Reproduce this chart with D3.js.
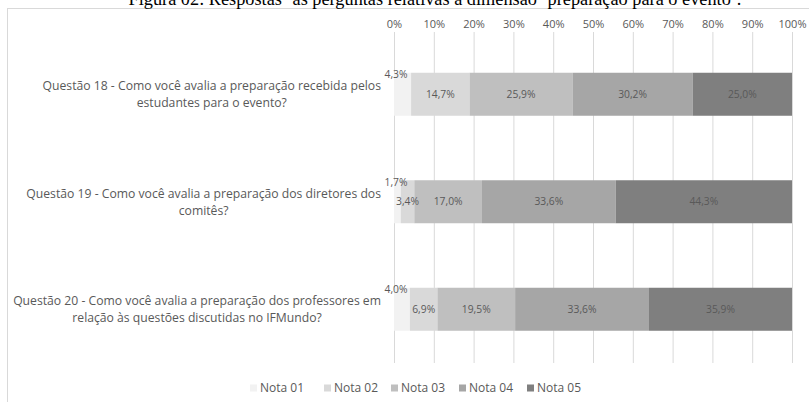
<!DOCTYPE html>
<html>
<head>
<meta charset="utf-8">
<script src="https://cdn.jsdelivr.net/npm/d3@7"></script>
<style>
  body { margin: 0; background: #fff; }
  svg { display: block; }
  .tick line { stroke: #d9d9d9; }
  .tick text { fill: #595959; font-family: "Open Sans", sans-serif; font-size: 11px; }
</style>
</head>
<body>
<div id="chart"></div>
<script>
var questoes = [
  ["Questão 18 - Como você avalia a preparação recebida pelos", "estudantes para o evento?"],
  ["Questão 19 - Como você avalia a preparação dos diretores dos", "comitês?"],
  ["Questão 20 - Como você avalia a preparação dos professores em", "relação às questões discutidas no IFMundo?"]
];
var notas = ["Nota 01", "Nota 02", "Nota 03", "Nota 04", "Nota 05"];
var q18 = [4.3, 14.7, 25.9, 30.2, 25.0];
var q19 = [1.7, 3.4, 17.0, 33.6, 44.3];
var q20 = [4.0, 6.9, 19.5, 33.6, 35.9];
var cores = ["#f2f2f2", "#d9d9d9", "#bfbfbf", "#a6a6a6", "#7f7f7f"];
var ticks = [0, 0.1, 0.2, 0.3, 0.4, 0.5, 0.6, 0.7, 0.8, 0.9, 1];

var width = 809, height = 402,
  margin = {left: 394, right: 17, top: 32, bottom: 39};

var svg = d3.select("#chart").append("svg")
  .attr("width", width)
  .attr("height", height);

// moldura do gráfico (sai da imagem à direita e embaixo)
svg.append("rect")
  .attr("x", 7.5).attr("y", 8.5)
  .attr("width", 900).attr("height", 500)
  .attr("fill", "none").attr("stroke", "#d9d9d9");

svg.append("text")
  .attr("x", 435).attr("y", 5)
  .attr("text-anchor", "middle")
  .style("font-family", "'Liberation Serif', serif")
  .style("font-size", "18.3px")
  .attr("fill", "#000")
  .text("Figura 02: Respostas \u02DDàs perguntas relativas à dimensão \u02DDpreparação para o evento\u02DD.");

var linhas = [q18, q19, q20].map(function (vals, i) {
  var tot = d3.sum(vals), acc = 0;
  return vals.map(function (v, j) {
    var d = {q: i, nota: j, v: v, x0: acc / tot};
    acc += v;
    d.x1 = acc / tot;
    return d;
  });
});

var x = d3.scaleLinear().domain([0, 1]).range([margin.left, width - margin.right]);
var y = d3.scaleBand()
  .domain(d3.range(questoes.length))
  .range([40.5, height - margin.bottom])
  .paddingInner(0.6).paddingOuter(0.3);

var xAxis = svg.append("g")
  .attr("transform", "translate(0," + margin.top + ")")
  .call(d3.axisTop(x).tickValues(ticks)
    .tickFormat(d3.format(".0%"))
    .tickSizeInner(-(height - margin.bottom - margin.top))
    .tickSizeOuter(0).tickPadding(4));
xAxis.select(".domain").remove();

var barras = svg.append("g");
linhas.forEach(function (linha) {
  barras.selectAll(null)
    .data(linha)
    .enter().append("rect")
    .attr("x", function (d) { return x(d.x0); })
    .attr("y", function (d) { return y(d.q); })
    .attr("width", function (d) { return x(d.x1) - x(d.x0); })
    .attr("height", y.bandwidth())
    .attr("fill", function (d) { return cores[d.nota]; });

  barras.selectAll(null)
    .data(linha)
    .enter().append("text")
    .attr("x", function (d) { return d.nota === 0 ? x(0) + 2 : (x(d.x0) + x(d.x1)) / 2; })
    .attr("y", function (d) { return d.nota === 0 ? y(d.q) + 2 : y(d.q) + y.bandwidth() / 2; })
    .attr("dy", "0.35em")
    .attr("text-anchor", "middle")
    .style("font-family", "'Open Sans', sans-serif")
    .style("font-size", "10.3px")
    .attr("fill", "#595959")
    .text(function (d) { return d3.format(".1f")(d.v).replace(".", ",") + "%"; });
});

// rótulos das categorias, centrados em bloco e alinhados à direita
var rotulos = svg.append("g");
questoes.forEach(function (ls, i) {
  var cy = y(i) + y.bandwidth() / 2;
  var t = rotulos.append("text")
    .attr("text-anchor", "middle")
    .style("font-family", "'Open Sans', sans-serif")
    .style("font-size", "12.2px")
    .attr("fill", "#595959");
  ls.forEach(function (s, k) {
    t.append("tspan").attr("y", cy + (k - (ls.length - 1) / 2) * 17).attr("dy", "0.35em").text(s);
  });
  var w = d3.max(t.selectAll("tspan").nodes(), function (n) { return n.getComputedTextLength(); });
  t.selectAll("tspan").attr("x", 381 - w / 2);
});

// legenda
var leg = svg.append("g").attr("transform", "translate(0,388)");
var lx = [260, 334, 401, 469, 537];
notas.forEach(function (n, i) {
  leg.append("rect")
    .attr("x", lx[i] - 10).attr("y", -3.5)
    .attr("width", 7).attr("height", 7)
    .attr("fill", cores[i]);
  leg.append("text")
    .attr("x", lx[i]).attr("y", 0).attr("dy", "0.35em")
    .style("font-family", "'Open Sans', sans-serif")
    .style("font-size", "12px")
    .attr("fill", "#595959")
    .text(n);
});
</script>
</body>
</html>
